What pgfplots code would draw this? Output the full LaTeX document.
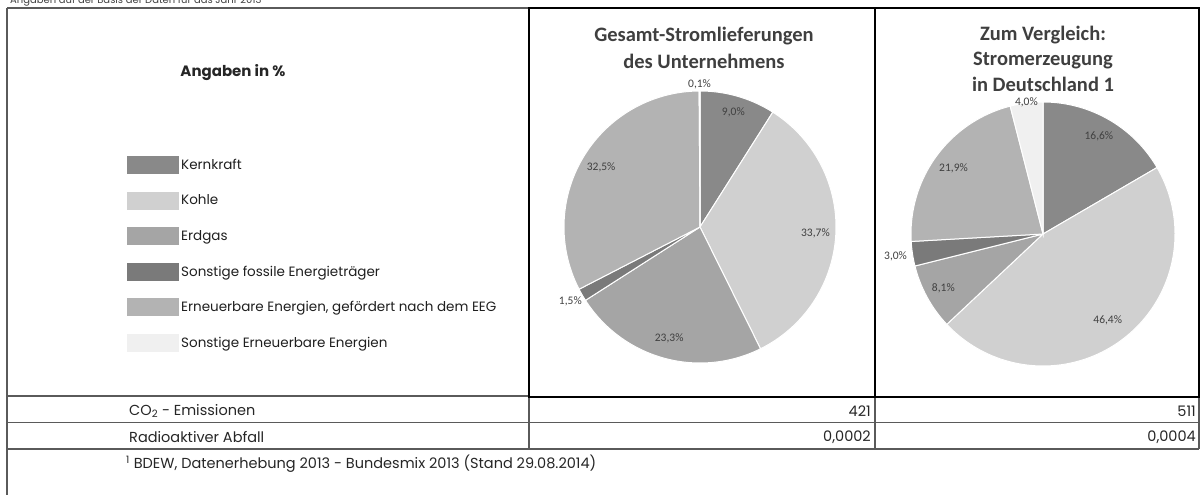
\documentclass[border=0pt]{standalone}
\usepackage{pgfplots}
\pgfplotsset{compat=1.18}
\usepackage{pgfplotstable}
\usepackage{fontspec}
\setmainfont{Poppins}
\newfontfamily\carlito{Carlito}
\newfontfamily\fut{Poppins}

\definecolor{pc0}{HTML}{898989}
\definecolor{pc1}{HTML}{D0D0D0}
\definecolor{pc2}{HTML}{A5A5A5}
\definecolor{pc3}{HTML}{7A7A7A}
\definecolor{pc4}{HTML}{B3B3B3}
\definecolor{pc5}{HTML}{F0F0F0}
\definecolor{labc}{HTML}{404040}
\definecolor{titc}{HTML}{3F3F3F}
\definecolor{gridc}{HTML}{5A5A5A}

% Gesamt-Stromlieferungen des Unternehmens (%); lpos = label distance / radius
\pgfplotstableread{
src val lpos
Kernkraft 9.0 0.88
Kohle 33.7 0.85
Erdgas 23.3 0.85
SonstigeFossile 1.5 1.10
EEG 32.5 0.85
SonstigeEE 0.1 1.05
}\pieA
% Stromerzeugung in Deutschland (%)
\pgfplotstableread{
src val lpos
Kernkraft 16.6 0.85
Kohle 46.4 0.82
Erdgas 8.1 0.86
SonstigeFossile 3.0 1.13
EEG 21.9 0.84
SonstigeEE 4.0 1.005
}\pieB

\newcommand\labfont{\carlito\fontsize{11.5}{13}\selectfont}
\newcommand\labelfmt[1]{\pgfmathprintnumber[fixed,fixed zerofill,precision=1,use comma,assume math mode=true]{#1}\%}

\newcommand\piechart[1]{%
  \def\tot{0}%
  \pgfplotsforeachungrouped \i in {0,...,5}{%
    \pgfplotstablegetelem{\i}{val}\of{#1}%
    \pgfmathsetmacro\tot{\tot+\pgfplotsretval}}%
  \def\cum{0}%
  \pgfplotsforeachungrouped \i in {0,...,5}{%
    \pgfplotstablegetelem{\i}{val}\of{#1}%
    \let\v\pgfplotsretval
    \pgfplotstablegetelem{\i}{lpos}\of{#1}%
    \let\lr\pgfplotsretval
    \pgfmathsetmacro\s{90-\cum/\tot*360}%
    \pgfmathsetmacro\cum{\cum+\v}%
    \pgfmathsetmacro\e{90-\cum/\tot*360}%
    \pgfmathsetmacro\m{(\s+\e)/2}%
    \pgfmathsetmacro\lx{\lr*cos(\m)}%
    \pgfmathsetmacro\ly{\lr*sin(\m)}%
    \edef\temp{\noexpand\addplot[fill=pc\i, draw=white, line width=1pt, domain=\e:\s, samples=90] ({cos(x)},{sin(x)}) -- (axis cs:0,0) -- cycle;
      \noexpand\node[font=\noexpand\labfont, text=labc, inner sep=0.5pt, anchor=center] at (axis cs:\lx,\ly) {\noexpand\labelfmt{\v}};}%
    \temp
  }%
}

\begin{document}
\begin{tikzpicture}[x=1pt,y=1pt]
\useasboundingbox (0,0) rectangle (1202,-495);

% caption (cut at the top)
\node[anchor=base west, inner sep=0, font=\fut\fontsize{10}{12}\selectfont, text=black!75] at (10,-4) {Angaben auf der Basis der Daten für das Jahr 2013};

% table grid
\begin{scope}[line width=1.6pt, draw=gridc]
\draw (7,-8) -- (529,-8);
\draw (7,-8) -- (7,-495);
\draw (7,-396) -- (529,-396);
\draw (7,-422.5) -- (1199,-422.5);
\draw (7,-449) -- (1199,-449);
\draw (529,-397) -- (529,-449);
\draw (875,-397) -- (875,-449);
\draw (1199,-397) -- (1199,-449);
\end{scope}
\draw[line width=2.4pt, black] (529,-8) rectangle (875,-397);
\draw[line width=2.4pt, black] (875,-8) rectangle (1199,-397);

% pie A
\begin{axis}[at={(700pt,-227pt)}, anchor=center, x=136pt, y=136pt,
  xmin=-1.3, xmax=1.3, ymin=-1.3, ymax=1.3, hide axis, clip=false,
  legend entries={Kernkraft,Kohle,Erdgas,Sonstige fossile Energieträger,{Erneuerbare Energien, gefördert nach dem EEG},Sonstige Erneuerbare Energien},
  legend image code/.code={\fill[#1, draw=none] (0pt,-9pt) rectangle (52pt,9pt);},
  legend style={at={(axis description cs:-1.1205,0.7008)}, anchor=north west, draw=none, fill=none,
    font=\fut\fontsize{13.5}{15}\selectfont, row sep=17.5pt, inner sep=0pt,
    nodes={inner xsep=2pt, inner ysep=0pt, text=black!88}},
  legend cell align=left]
\piechart{\pieA}
\end{axis}

% pie B
\begin{axis}[at={(1043pt,-234pt)}, anchor=center, x=132pt, y=132pt,
  xmin=-1.3, xmax=1.3, ymin=-1.3, ymax=1.3, hide axis, clip=false]
\piechart{\pieB}
\end{axis}

% titles
\begin{scope}[every node/.style={font=\carlito\bfseries\fontsize{20.5}{26}\selectfont, text=titc, anchor=base, inner sep=0}]
\node at (704,-42) {Gesamt-Stromlieferungen};
\node at (704,-68) {des Unternehmens};
\node at (1043,-40.5) {Zum Vergleich:};
\node at (1043,-66) {Stromerzeugung};
\node at (1043,-91.5) {in Deutschland 1};
\end{scope}

\node[anchor=base, inner sep=0, font=\fut\bfseries\fontsize{15}{18}\selectfont, text=black!85] at (233,-77) {Angaben in \%};

% bottom rows
\begin{scope}[every node/.style={inner sep=0, font=\fut\fontsize{14.5}{16}\selectfont, text=black!85}]
\node[anchor=west] at (129,-411) {CO\textsubscript{2} - Emissionen};
\node[anchor=west] at (129,-437) {Radioaktiver Abfall};
\node[anchor=east] at (871,-411) {421};
\node[anchor=east] at (1196,-411) {511};
\node[anchor=east] at (871,-437) {0,0002};
\node[anchor=east] at (1196,-437) {0,0004};
\node[anchor=west] at (126,-464) {\textsuperscript{1} BDEW, Datenerhebung 2013 - Bundesmix 2013 (Stand 29.08.2014)};
\end{scope}
\end{tikzpicture}
\end{document}
